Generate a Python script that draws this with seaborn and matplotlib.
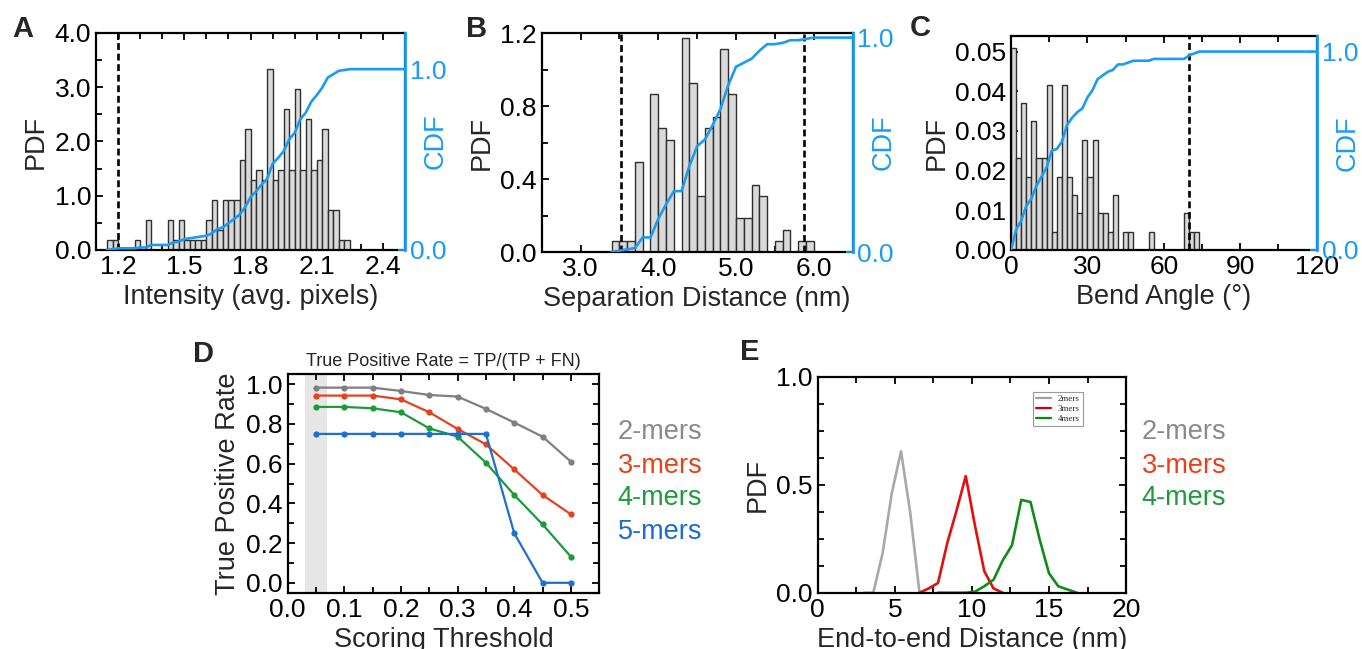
import numpy as np
import pandas as pd
import matplotlib
matplotlib.use("Agg")
import matplotlib.pyplot as plt
from matplotlib.ticker import MultipleLocator, FormatStrFormatter
from matplotlib.lines import Line2D
import seaborn as sns

sns.set_theme(style="ticks")
plt.rcParams["font.family"] = ["Liberation Sans", "DejaVu Sans"]

# ---------------- data ----------------
# A: spot intensity histogram (counts per bin)
intensity_bin_start = 1.15
intensity_bin_width = 0.025
intensity_counts = [1, 1, 0, 0, 0, 1, 0, 3, 0, 0, 0, 3, 1, 3, 1, 1, 1, 1, 3, 5, 2, 5,
                    5, 5, 9, 12, 7, 8, 7, 18, 7, 8, 14, 8, 16, 8, 13, 8, 9, 12, 4, 4, 1, 1]
intensity_cutoffs = [1.2]

# B: separation distance histogram (counts per bin)
separation_bin_start = 3.4
separation_bin_width = 0.1
separation_counts = [1, 1, 1, 8, 0, 14, 11, 10, 0, 19, 15, 5, 11, 12, 18, 14, 3, 3,
                     6, 5, 0, 1, 2, 0, 1, 1]
separation_cutoffs = [3.52, 5.87]

# C: bend angle histogram (counts per bin)
angle_bin_start = 0.0
angle_bin_width = 2.0
angle_counts = [11, 5, 8, 4, 7, 5, 5, 9, 1, 4, 9, 4, 3, 2, 6, 4, 6, 2, 2, 1, 3, 0, 1,
                1, 0, 0, 0, 1, 0, 0, 0, 0, 0, 0, 2, 1, 1]
angle_cutoffs = [70.0]

# D: true positive rate vs scoring threshold
thresholds = [0.05, 0.10, 0.15, 0.20, 0.25, 0.30, 0.35, 0.40, 0.45, 0.50]
tpr_2mers = [0.983, 0.983, 0.983, 0.966, 0.946, 0.938, 0.876, 0.807, 0.736, 0.610]
tpr_3mers = [0.943, 0.943, 0.943, 0.924, 0.859, 0.775, 0.697, 0.571, 0.442, 0.345]
tpr_4mers = [0.886, 0.886, 0.879, 0.859, 0.778, 0.736, 0.605, 0.442, 0.294, 0.131]
tpr_5mers = [0.750, 0.750, 0.750, 0.750, 0.750, 0.750, 0.750, 0.249, 0.0, 0.0]
highlight_band = [0.03, 0.07]

# E: end-to-end distance distributions
dist_2mers = [3.0, 3.6, 4.2, 4.8, 5.4, 6.0, 6.6]
pdf_2mers = [0.0, 0.0, 0.18, 0.46, 0.655, 0.37, 0.0]
dist_3mers = [6.6, 7.2, 7.8, 8.4, 9.0, 9.6, 10.2, 10.8, 11.4, 12.0]
pdf_3mers = [0.0, 0.02, 0.045, 0.23, 0.38, 0.54, 0.31, 0.10, 0.02, 0.0]
dist_4mers = [7.8, 8.4, 9.0, 9.6, 10.2, 10.8, 11.4, 12.0, 12.6, 13.2, 13.8, 14.4,
              15.0, 15.6, 16.2, 16.8]
pdf_4mers = [0.0, 0.0, 0.0, 0.0, 0.005, 0.03, 0.06, 0.15, 0.22, 0.43, 0.42, 0.245,
             0.09, 0.03, 0.015, 0.0]

series_names = ["2-mers", "3-mers", "4-mers", "5-mers"]
legend_names_e = ["2mers", "3mers", "4mers"]

# ---------------- style ----------------
CDF_BLUE = "#1a9cf2"
BAR_FACE = "#d9d9d9"
BAR_EDGE = "#2e2e2e"
TPR_COLORS = {"2-mers": "#7f7f7f", "3-mers": "#e2431e", "4-mers": "#1b9a3c", "5-mers": "#1d6fd0"}
LABEL_COLORS = {"2-mers": "#8a8a8a", "3-mers": "#e8411a", "4-mers": "#1f9a3f", "5-mers": "#1b6bd0"}
E_COLORS = {"2-mers": "#a8a8a8", "3-mers": "#e01010", "4-mers": "#118c1a"}
TICK_FS = 19
LABEL_FS = 19.5
SPINE_W = 1.6

fig = plt.figure(figsize=(13.62, 6.49), dpi=100)


def style_axes(ax, right_ticks=True):
    for side in ["left", "right", "top", "bottom"]:
        ax.spines[side].set_linewidth(SPINE_W)
        ax.spines[side].set_color("black")
    ax.tick_params(which="both", direction="in", top=True, right=right_ticks,
                   width=1.3, labelsize=TICK_FS, colors="black")
    ax.tick_params(which="major", length=5)
    ax.tick_params(which="minor", length=4)


def hist_cdf_panel(rect, start, width, counts, cutoffs, xlim, xmajor, xminor, xfmt,
                   ylim, ymajor, yminor, yfmt, cdf_top, xlabel):
    ax = fig.add_axes(rect)
    counts = np.asarray(counts, dtype=float)
    edges = start + width * np.arange(len(counts) + 1)
    centers = edges[:-1] + width / 2
    hist_df = pd.DataFrame({"center": centers, "count": counts})
    sns.histplot(data=hist_df, x="center", weights="count", bins=edges.tolist(),
                 stat="density", color=BAR_FACE, edgecolor=BAR_EDGE, linewidth=1.0,
                 alpha=1.0, ax=ax)
    for c in cutoffs:
        ax.axvline(c, color="black", lw=1.9, ls=(0, (2.6, 1.4)), zorder=5)
    ax.set_xlim(*xlim)
    ax.set_ylim(*ylim)
    ax.xaxis.set_major_locator(MultipleLocator(xmajor))
    ax.xaxis.set_minor_locator(MultipleLocator(xminor))
    ax.xaxis.set_major_formatter(FormatStrFormatter(xfmt))
    ax.yaxis.set_major_locator(MultipleLocator(ymajor))
    ax.yaxis.set_minor_locator(MultipleLocator(yminor))
    ax.yaxis.set_major_formatter(FormatStrFormatter(yfmt))
    style_axes(ax, right_ticks=False)
    ax.set_xlabel(xlabel, fontsize=LABEL_FS)
    ax.set_ylabel("PDF", fontsize=LABEL_FS)

    ax2 = ax.twinx()
    cdf = np.concatenate([[0.0], np.cumsum(counts)]) / counts.sum()
    x_cdf = np.append(edges, xlim[1])
    y_cdf = np.append(cdf, 1.0)
    sns.lineplot(x=x_cdf, y=y_cdf, ax=ax2, color=CDF_BLUE, lw=1.9,
                 estimator=None, sort=False)
    ax2.set_ylim(0, cdf_top)
    ax2.set_yticks([0.0, 1.0])
    ax2.yaxis.set_major_formatter(FormatStrFormatter("%.1f"))
    for side in ["left", "top", "bottom"]:
        ax2.spines[side].set_visible(False)
    ax2.spines["right"].set_color(CDF_BLUE)
    ax2.spines["right"].set_linewidth(2.0)
    ax2.tick_params(axis="y", direction="in", colors=CDF_BLUE, labelcolor=CDF_BLUE,
                    labelsize=TICK_FS, length=5, width=1.3)
    ax2.set_ylabel("CDF", color=CDF_BLUE, fontsize=LABEL_FS)
    ax2.yaxis.set_label_coords(1.10, 0.5)
    ax2.yaxis.label.set_va("center")
    return ax, ax2


# A
hist_cdf_panel([0.0705, 0.6148, 0.2269, 0.3344], intensity_bin_start, intensity_bin_width,
               intensity_counts, intensity_cutoffs, (1.1, 2.5), 0.3, 0.1, "%.1f",
               (0, 4.0), 1.0, 0.5, "%.1f", 1.2, "Intensity (avg. pixels)")
# B
hist_cdf_panel([0.3977, 0.6117, 0.2283, 0.3370], separation_bin_start, separation_bin_width,
               separation_counts, separation_cutoffs, (2.5, 6.5), 1.0, 0.5, "%.1f",
               (0, 1.2), 0.4, 0.2, "%.1f", 1.02, "Separation Distance (nm)")
# C
hist_cdf_panel([0.7423, 0.6148, 0.2244, 0.3302], angle_bin_start, angle_bin_width,
               angle_counts, angle_cutoffs, (0, 120), 30, 15, "%d",
               (0, 0.054), 0.01, 0.005, "%.2f", 1.08, "Bend Angle (°)")

# D
axd = fig.add_axes([0.2112, 0.0867, 0.2288, 0.3365])
axd.axvspan(highlight_band[0], highlight_band[1], color="#e6e6e6", lw=0, zorder=0)
tpr_df = pd.DataFrame({
    "threshold": thresholds * 4,
    "tpr": tpr_2mers + tpr_3mers + tpr_4mers + tpr_5mers,
    "series": [n for n in series_names for _ in thresholds],
})
sns.lineplot(data=tpr_df, x="threshold", y="tpr", hue="series", palette=TPR_COLORS,
             marker="o", markersize=4.5, markeredgewidth=0, lw=1.6,
             estimator=None, sort=False, legend=False, ax=axd)
axd.set_xlim(0, 0.55)
axd.set_ylim(-0.05, 1.05)
axd.xaxis.set_major_locator(MultipleLocator(0.1))
axd.xaxis.set_minor_locator(MultipleLocator(0.05))
axd.yaxis.set_major_locator(MultipleLocator(0.2))
axd.yaxis.set_minor_locator(MultipleLocator(0.1))
axd.xaxis.set_major_formatter(FormatStrFormatter("%.1f"))
axd.yaxis.set_major_formatter(FormatStrFormatter("%.1f"))
style_axes(axd)
axd.set_xlabel("Scoring Threshold", fontsize=LABEL_FS)
axd.set_ylabel("True Positive Rate", fontsize=LABEL_FS)
axd.set_title("True Positive Rate = TP/(TP + FN)", fontsize=13, pad=6)
label_y = [0.3344, 0.2820, 0.2327, 0.1807]
for name, yy in zip(series_names, label_y):
    fig.text(0.4535, yy, name, color=LABEL_COLORS[name], fontsize=19.5, va="center", ha="left")

# E
axe = fig.add_axes([0.6004, 0.0867, 0.2264, 0.3328])
e_df = pd.DataFrame({
    "distance": dist_2mers + dist_3mers + dist_4mers,
    "pdf": pdf_2mers + pdf_3mers + pdf_4mers,
    "series": ["2-mers"] * len(dist_2mers) + ["3-mers"] * len(dist_3mers)
              + ["4-mers"] * len(dist_4mers),
})
sns.lineplot(data=e_df, x="distance", y="pdf", hue="series", palette=E_COLORS, lw=1.9,
             estimator=None, sort=False, legend=False, ax=axe)
axe.set_xlim(0, 20)
axe.set_ylim(0, 1.0)
axe.xaxis.set_major_locator(MultipleLocator(5))
axe.xaxis.set_minor_locator(MultipleLocator(2.5))
axe.yaxis.set_major_locator(MultipleLocator(0.5))
axe.yaxis.set_minor_locator(MultipleLocator(0.125))
axe.xaxis.set_major_formatter(FormatStrFormatter("%d"))
axe.yaxis.set_major_formatter(FormatStrFormatter("%.1f"))
style_axes(axe)
axe.set_xlabel("End-to-end Distance (nm)", fontsize=LABEL_FS)
axe.set_ylabel("PDF", fontsize=LABEL_FS)
handles = [Line2D([], [], color=c, lw=1.6) for c in ["#a0a0a0", "#d40000", "#009000"]]
leg = axe.legend(handles, legend_names_e, loc="upper left", bbox_to_anchor=(0.698, 0.93),
                 prop={"family": "Liberation Serif", "size": 6.5}, frameon=True,
                 fancybox=False, framealpha=1, edgecolor="#9a9a9a", handlelength=1.6,
                 handletextpad=0.8, borderpad=0.35, labelspacing=0.15, borderaxespad=0)
leg.get_frame().set_linewidth(0.8)
for name, yy in zip(series_names[:3], label_y[:3]):
    fig.text(0.8382, yy, name, color=LABEL_COLORS[name], fontsize=19.5, va="center", ha="left")

# panel letters
for letter, x, y in [("A", 0.0088, 0.943), ("B", 0.342, 0.943), ("C", 0.668, 0.944),
                     ("D", 0.1417, 0.4422), ("E", 0.543, 0.4453)]:
    fig.text(x, y, letter, fontsize=21, fontweight="bold", ha="left", va="baseline")

fig.savefig("out.png", dpi=100)
